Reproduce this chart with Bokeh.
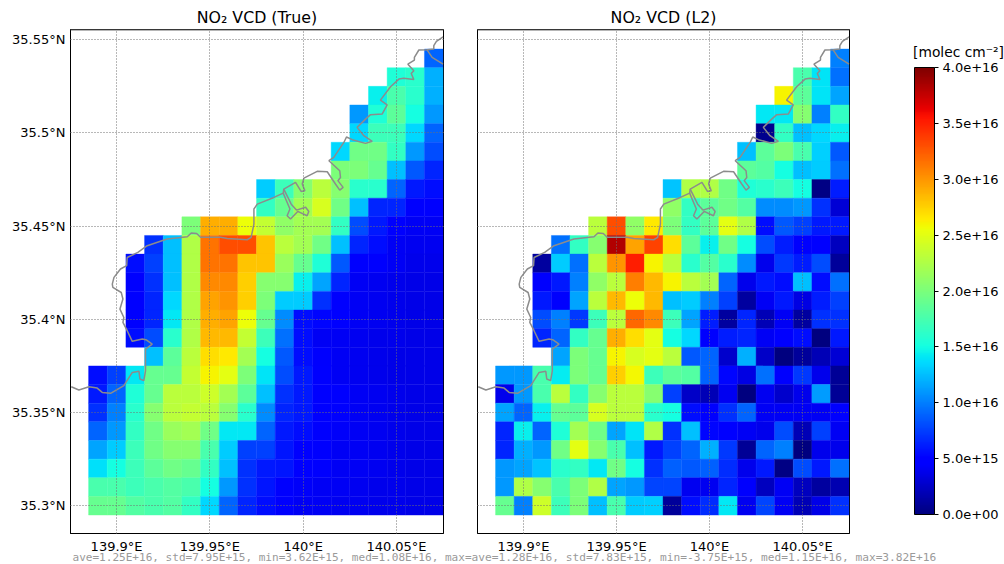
import numpy as np
from bokeh.embed import file_html
from bokeh.resources import INLINE
from bokeh.layouts import row, column
from bokeh.plotting import figure
from bokeh.models import (ColumnDataSource, LinearColorMapper, ColorBar, FixedTicker,
                          Range1d, Span, Label)

# cell centres: 19 longitudes, 25 latitudes; each row lists the valid cells, right aligned, in 1e16 molec/cm2
lons = [139.89, 139.90, 139.91, 139.92, 139.93, 139.94, 139.95, 139.96, 139.97, 139.98,
        139.99, 140.00, 140.01, 140.02, 140.03, 140.04, 140.05, 140.06, 140.07]
lats = [35.54, 35.53, 35.52, 35.51, 35.50, 35.49, 35.48, 35.47, 35.46, 35.45, 35.44, 35.43, 35.42,
        35.41, 35.40, 35.39, 35.38, 35.37, 35.36, 35.35, 35.34, 35.33, 35.32, 35.31, 35.30]

true_rows = [
    [.9],
    [1.55, 1.6, 1.2],
    [1.45, 1.75, 1.6, 1.2],
    [1.1, 1.55, 1.85, 1.5, 1.1],
    [1.35, 1.7, 1.7, 1.35, .9],
    [1.35, 1.95, 1.95, 1.65, 1.1, .8],
    [2.0, 2.0, 1.9, 1.25, .85, .65],
    [1.3, 1.7, 2.05, 2.3, 2.05, 1.6, 1.6, .9, .6, .55],
    [1.65, 1.9, 2.2, 2.45, 1.95, 1.25, .65, .65, .45, .45],
    [2.0, 2.9, 2.9, 2.55, 2.35, 2.1, 2.2, 2.2, 1.65, .8, .6, .45, .42, .42],
    [.7, 1.25, 2.25, 3.15, 3.3, 3.3, 2.8, 2.3, 2.2, 1.95, 1.25, .65, .55, .42, .4, .4],
    [.55, .75, 1.25, 2.25, 3.15, 3.15, 2.8, 2.8, 2.15, 1.9, 1.55, .85, .45, .45, .42, .38, .38],
    [.5, .7, 1.25, 2.25, 3.05, 3.05, 2.75, 2.05, 2.05, 1.45, 1.15, .65, .42, .4, .38, .36, .36],
    [.48, .65, 1.35, 2.25, 2.95, 3.0, 2.75, 2.0, 1.3, 1.3, .7, .45, .42, .4, .38, .36, .36],
    [.45, .65, 1.42, 2.25, 2.9, 2.95, 2.55, 1.9, 1.05, .55, .52, .5, .42, .4, .38, .36, .36],
    [.55, .8, 1.6, 2.25, 2.85, 2.85, 2.35, 1.7, .95, .55, .42, .42, .4, .38, .38, .37, .36],
    [1.25, 1.85, 2.3, 2.7, 2.65, 2.2, 1.5, .85, .55, .45, .42, .4, .38, .37, .37, .36],
    [.55, .75, 1.42, 1.9, 1.9, 2.35, 2.6, 2.5, 2.0, 1.4, .8, .6, .48, .42, .4, .38, .37, .37, .36],
    [.6, .9, 1.55, 1.9, 2.3, 2.3, 2.4, 2.2, 1.85, 1.25, .7, .6, .5, .45, .42, .4, .38, .37, .36],
    [.7, 1.0, 1.6, 2.05, 2.3, 2.35, 2.3, 2.05, 1.6, 1.05, .65, .6, .48, .45, .42, .4, .38, .37, .36],
    [.9, 1.1, 1.65, 1.95, 2.15, 2.2, 1.95, 1.42, 1.42, .9, .6, .55, .45, .43, .42, .4, .38, .37, .36],
    [1.15, 1.3, 1.7, 1.95, 2.05, 2.05, 1.75, 1.3, .75, .75, .58, .5, .45, .42, .42, .4, .38, .37, .36],
    [1.38, 1.5, 1.7, 1.85, 1.95, 1.9, 1.65, 1.25, .7, .6, .58, .5, .45, .42, .42, .4, .38, .37, .36],
    [1.75, 1.75, 1.7, 1.75, 1.8, 1.75, 1.5, 1.1, .7, .58, .45, .43, .42, .42, .4, .38, .38, .37, .37],
    [1.9, 1.9, 1.8, 1.75, 1.8, 1.65, 1.35, .9, .65, .55, .45, .42, .42, .4, .4, .38, .38, .37, .37],
]

l2_rows = [
    [1.0],
    [1.75, 1.4, .95],
    [2.6, 1.85, 1.4, 1.15],
    [1.42, 1.42, 2.05, 1.0, 1.65],
    [.05, 1.65, 1.25, 1.35, 1.45],
    [1.25, 1.85, 2.0, 1.75, 1.32, .85],
    [1.85, 1.8, 1.5, 1.25, 1.3, .95],
    [1.28, 2.25, 2.25, 1.95, 1.55, 1.6, 1.7, 1.5, .02, .62],
    [2.1, 1.65, 1.85, 1.95, 1.8, 1.05, 1.05, 1.1, .7, .3],
    [2.3, 3.3, 2.1, 2.65, 2.0, 1.65, 1.85, 2.5, 2.25, .55, .85, .75, .6, .6],
    [.95, 1.65, 2.05, 3.82, 2.95, 3.35, 2.7, 1.85, 1.45, 1.95, 1.5, .8, .62, .45, .48, .22],
    [.12, 1.3, .95, 2.3, 3.0, 3.5, 2.6, 2.3, 1.6, 1.8, 1.6, 1.05, .38, .72, .62, .8, .1],
    [.45, .6, 1.0, 2.1, 2.3, 3.1, 2.85, 2.6, 2.3, 2.2, .9, .38, .6, .55, 1.25, .55, .95],
    [.6, .45, 1.15, 2.3, 2.85, 2.55, 2.85, 1.25, 1.3, 1.0, .75, .12, .42, .6, .35, .62, .75],
    [.8, 1.0, .72, 1.7, 2.3, 3.2, 3.05, 1.7, 1.15, .62, .12, .65, .2, .42, .12, .7, .7],
    [.65, .9, 1.65, 1.9, 2.9, 2.7, 2.5, 1.5, 1.35, .45, .62, .65, .42, .5, .55, .0, .6],
    [1.15, 2.0, 1.9, 2.6, 2.45, 2.5, 2.3, .85, .9, .28, 1.2, .25, .0, .1, .2, .3],
    [1.1, 1.1, 1.75, 1.43, 2.0, 1.9, 2.75, 2.58, 1.7, 1.85, 1.8, .9, .52, .35, .95, .45, .72, .38, .08],
    [.38, 1.1, 1.75, 2.3, 1.65, 2.05, 2.3, 2.3, 2.05, .75, .25, .2, .4, .0, .4, .28, .38, 1.12, .08],
    [1.15, .9, 1.45, 1.9, 1.85, 2.45, 2.3, 2.3, 1.6, 1.5, .55, .45, .7, .9, .42, .42, .42, .42, .5],
    [.65, 1.45, .9, 1.55, 2.2, 1.95, 1.15, 1.4, 2.25, .7, 1.25, .52, .5, .42, .38, .8, .2, .75, .42],
    [.65, 1.2, 1.1, 1.95, 2.5, 2.05, 1.75, 1.25, .6, .75, .9, 1.2, .72, .08, .9, 1.0, .0, .38, .38],
    [1.1, 1.15, 1.28, 1.6, 1.65, 1.42, 1.95, 1.5, .7, .88, .85, .88, .68, .38, .6, .03, .8, .6, .95],
    [1.1, 2.25, 2.05, 1.75, 2.0, 2.25, 1.15, 1.1, .78, .78, .4, .4, .65, .45, .22, .42, .22, .12, .18],
    [1.9, 1.0, 2.4, 1.7, 2.0, 1.25, 1.75, 1.3, 1.32, .1, .55, .68, 1.42, .4, .78, .42, .2, .36, .7],
]

coast_lon = [140.075, 140.0714, 140.07, 140.07, 140.0664, 140.062, 140.0596, 140.0596, 140.0561, 140.0593,
             140.0579, 140.0593, 140.0539, 140.0513, 140.0468, 140.0414, 140.045, 140.0423, 140.0361, 140.0334,
             140.0289, 140.0325, 140.037, 140.0334, 140.0263, 140.0232, 140.0218, 140.0164, 140.0138, 140.0196,
             140.02, 140.0186, 140.0214, 140.0196, 140.0173, 140.0129, 140.0075, 140.0004, 139.9995, 140.0009,
             139.9989, 139.9959, 139.9896, 139.9893, 139.9843, 139.9754, 139.9736, 139.9736, 139.9721, 139.97,
             139.9593, 139.9557, 139.945, 139.9429, 139.94, 139.9379, 139.9271, 139.9164, 139.9114, 139.9057,
             139.9054, 139.9021, 139.8986, 139.8977, 139.898, 139.9025, 139.9034, 139.9018, 139.9039, 139.9034,
             139.9057, 139.9084, 139.9138, 139.9161, 139.9191, 139.9155, 139.9155, 139.9155, 139.9146, 139.9125,
             139.912, 139.9084, 139.9039, 139.8968, 139.8923, 139.8896, 139.8852, 139.8798, 139.8757]
coast_lat = [35.5516, 35.5491, 35.5468, 35.545, 35.5446, 35.5445, 35.5405, 35.5391, 35.5369, 35.5334,
             35.5319, 35.5287, 35.5294, 35.5289, 35.5248, 35.5176, 35.5151, 35.5101, 35.5098, 35.5074,
             35.503, 35.4985, 35.4955, 35.4944, 35.4964, 35.4978, 35.4949, 35.4869, 35.4851, 35.4797,
             35.4761, 35.4744, 35.4708, 35.4693, 35.4726, 35.4792, 35.4794, 35.4758, 35.4726, 35.469,
             35.4686, 35.4735, 35.4699, 35.4677, 35.4654, 35.4618, 35.4592, 35.4511, 35.444, 35.4427,
             35.4434, 35.444, 35.444, 35.4461, 35.4463, 35.4443, 35.4431, 35.4395, 35.4359, 35.4332,
             35.4288, 35.427, 35.4225, 35.4189, 35.4171, 35.4144, 35.4109, 35.4055, 35.401, 35.3984,
             35.3939, 35.3882, 35.3894, 35.3889, 35.3867, 35.384, 35.3805, 35.3724, 35.3671, 35.368,
             35.3721, 35.3715, 35.3644, 35.3603, 35.3608, 35.3631, 35.3638, 35.3621, 35.3638]
inlet_lon = [139.9893, 139.9929, 139.9914, 139.9932, 139.9971, 140.0021, 140.003, 140.0013, 139.9964, 139.9936, 139.9896]
inlet_lat = [35.4677, 35.4592, 35.4556, 35.4538, 35.4579, 35.4556, 35.4579, 35.4601, 35.4586, 35.4618, 35.4699]
bay_lon = [140.0664, 140.0691, 140.075]
bay_lat = [35.5446, 35.5405, 35.5369]

x_ticks = [139.9, 139.95, 140.0, 140.05]
x_labels = ["139.9°E", "139.95°E", "140°E", "140.05°E"]
y_ticks = [35.3, 35.35, 35.4, 35.45, 35.5, 35.55]
y_labels = ["35.3°N", "35.35°N", "35.4°N", "35.45°N", "35.5°N", "35.55°N"]
cb_ticks = [0, 5e15, 1e16, 1.5e16, 2e16, 2.5e16, 3e16, 3.5e16, 4e16]
cb_labels = ["0.0e+00", "5.0e+15", "1.0e+16", "1.5e+16", "2.0e+16", "2.5e+16", "3.0e+16", "3.5e+16", "4.0e+16"]
cb_title = "[molec cm⁻²]"
stats_true = "ave=1.25E+16, std=7.95E+15, min=3.62E+15, med=1.08E+16, max="
stats_l2 = "ave=1.28E+16, std=7.83E+15, min=-3.75E+15, med=1.15E+16, max=3.82E+16"

LON_RANGE = (139.8753, 140.0752)
LAT_RANGE = (35.2851, 35.5555)


def jet_palette(n=256):
    t = np.linspace(0, 1, n)
    r = np.interp(t, [0, .35, .66, .89, 1], [0, 0, 1, 1, .5])
    g = np.interp(t, [0, .125, .375, .64, .91, 1], [0, 0, 1, 1, 0, 0])
    b = np.interp(t, [0, .11, .34, .65, 1], [.5, 1, 1, 0, 0])
    return ["#%02x%02x%02x" % (int(a * 255), int(c * 255), int(d * 255)) for a, c, d in zip(r, g, b)]


mapper = LinearColorMapper(palette=jet_palette(), low=0, high=4e16)
ROW_H = 553


def panel(rows, title, width, left, right, frame_w):
    xs, ys, vs = [], [], []
    for lat, vals in zip(lats, rows):
        for lon, v in zip(lons[len(lons) - len(vals):], vals):
            xs.append(lon)
            ys.append(lat)
            vs.append(v * 1e16)
    p = figure(width=width, height=ROW_H, output_backend="svg", toolbar_location=None,
               x_range=Range1d(*LON_RANGE), y_range=Range1d(*LAT_RANGE),
               min_border_left=left, min_border_right=right, min_border_top=29, min_border_bottom=20,
               frame_width=frame_w, frame_height=504, title=title)
    src = ColumnDataSource(dict(x=xs, y=ys, v=vs))
    fill = {"field": "v", "transform": mapper}
    p.rect("x", "y", width=0.01, height=0.01, source=src, fill_color=fill, line_color=fill, line_width=0.4)
    p.line(coast_lon, coast_lat, line_color="#8c8c8c", line_width=1.5)
    p.line(inlet_lon, inlet_lat, line_color="#8c8c8c", line_width=1.5)
    p.line(bay_lon, bay_lat, line_color="#8c8c8c", line_width=1.5)
    p.title.align = "center"
    p.title.text_font = "DejaVu Sans"
    p.title.text_font_style = "normal"
    p.title.text_font_size = "15.8px"
    p.title.text_color = "#000000"
    p.title.standoff = 5
    p.xgrid.ticker = FixedTicker(ticks=x_ticks)
    p.ygrid.ticker = FixedTicker(ticks=y_ticks)
    for g in (p.xgrid, p.ygrid):
        g.grid_line_color = "#707070"
        g.grid_line_dash = "1 2"
        g.grid_line_width = 1
        g.level = "overlay"
    for ax, ticks, labels in ((p.xaxis, x_ticks, x_labels), (p.yaxis, y_ticks, y_labels)):
        ax.ticker = FixedTicker(ticks=ticks)
        ax.major_label_overrides = dict(zip(ticks, labels))
        ax.major_label_text_font = "DejaVu Sans"
        ax.major_label_text_font_size = "13px"
        ax.major_label_text_color = "#000000"
        ax.major_tick_line_color = None
        ax.major_tick_out = 0
        ax.major_tick_in = 0
        ax.minor_tick_line_color = None
        ax.minor_tick_out = 0
        ax.axis_line_color = "#000000"
        ax.major_label_standoff = 5
    p.outline_line_color = "#000000"
    p.outline_line_alpha = 1
    p.add_layout(Span(location=LAT_RANGE[1], dimension="width", line_color="#6e6e6e", line_width=2))
    return p


p1 = panel(true_rows, "NO₂ VCD (True)", 471, 70, 28, 373)
p2 = panel(l2_rows, "NO₂ VCD (L2)", 406, 6, 28, 372)
p2.yaxis.visible = False

p3 = figure(width=127, height=ROW_H, output_backend="svg", toolbar_location=None,
            min_border=0, x_axis_type=None, y_axis_type=None, outline_line_color=None,
            x_range=Range1d(0, 1), y_range=Range1d(0, 1))
p3.xgrid.visible = False
p3.ygrid.visible = False
cb = ColorBar(color_mapper=mapper, width=20, height=447, location=(37, 16), padding=0,
              ticker=FixedTicker(ticks=cb_ticks), major_label_overrides=dict(zip(cb_ticks, cb_labels)),
              major_label_text_font="DejaVu Sans", major_label_text_font_size="13px",
              major_label_text_color="#000000", major_tick_in=0, major_tick_out=4,
              major_tick_line_color="#000000", bar_line_color="#000000", bar_line_width=1,
              minor_tick_line_color=None, label_standoff=4)
p3.add_layout(cb, "center")
p3.add_layout(Label(x=81, y=479, x_units="screen", y_units="screen", text=cb_title,
                    text_font="DejaVu Sans", text_font_size="13.8px", text_color="#000000",
                    text_align="center", text_baseline="middle"))

# the two statistics lines run under both maps, so they live in a strip of their own
footer = figure(width=1004, height=18, output_backend="svg", toolbar_location=None,
                min_border=0, x_axis_type=None, y_axis_type=None, outline_line_color=None,
                border_fill_color=None, background_fill_color=None,
                x_range=Range1d(0, 1004), y_range=Range1d(0, 18))
footer.xgrid.visible = False
footer.ygrid.visible = False
for x0, txt, size in ((72, stats_true, "11.05px"), (471, stats_l2, "11.2px")):
    footer.add_layout(Label(x=x0, y=4, x_units="screen", y_units="screen", text=txt,
                            text_font="DejaVu Sans Mono", text_font_size=size, text_color="#9a9a9a",
                            text_baseline="bottom"))

layout = column(row(p1, p2, p3, margin=(0, 0, -7, 0)), footer)
open("out.html", "w").write(file_html(layout, INLINE))
